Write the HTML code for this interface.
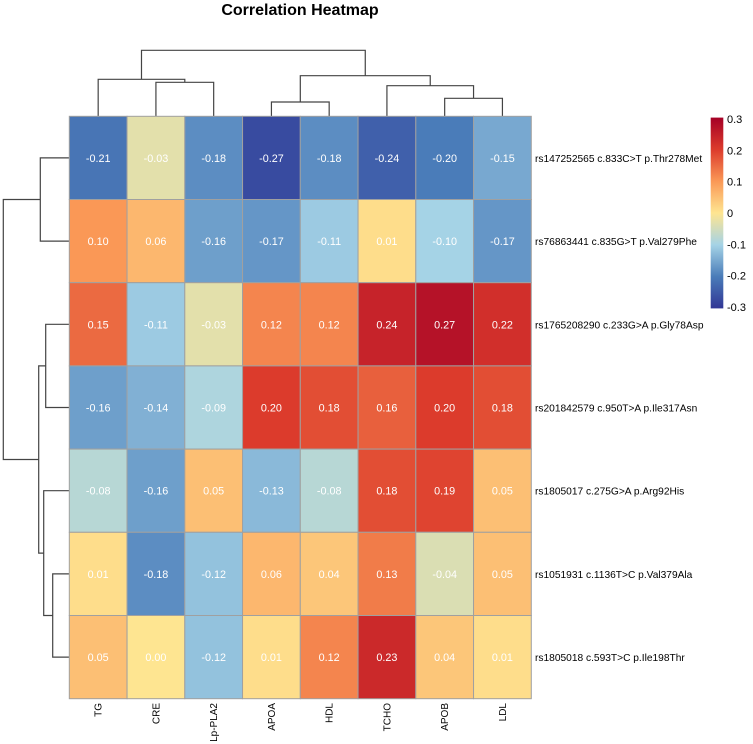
<!DOCTYPE html>
<html><head><meta charset="utf-8"><style>
body{margin:0;background:#fff}
svg{display:block;font-family:"Liberation Sans",Arial,sans-serif}
</style></head><body>
<svg id="chart" width="753" height="744" viewBox="0 0 753 744">
<text x="300" y="15" text-anchor="middle" font-size="16" font-weight="bold" fill="#000">Correlation Heatmap</text>
<g id="dendro-top" stroke="#444" stroke-width="1.2" fill="none"></g>
<g id="dendro-left" stroke="#444" stroke-width="1.2" fill="none"></g>
<g id="cells"></g>
<g id="rowlabels"></g>
<g id="collabels"></g>
<g id="legend"></g>
</svg>
<script>
const columns = ["TG","CRE","Lp-PLA2","APOA","HDL","TCHO","APOB","LDL"];
const rows = ["rs147252565 c.833C>T p.Thr278Met","rs76863441 c.835G>T p.Val279Phe","rs1765208290 c.233G>A p.Gly78Asp","rs201842579 c.950T>A p.Ile317Asn","rs1805017 c.275G>A p.Arg92His","rs1051931 c.1136T>C p.Val379Ala","rs1805018 c.593T>C p.Ile198Thr"];
const values = [
 [-0.21,-0.03,-0.18,-0.27,-0.18,-0.24,-0.20,-0.15],
 [0.10,0.06,-0.16,-0.17,-0.11,0.01,-0.10,-0.17],
 [0.15,-0.11,-0.03,0.12,0.12,0.24,0.27,0.22],
 [-0.16,-0.14,-0.09,0.20,0.18,0.16,0.20,0.18],
 [-0.08,-0.16,0.05,-0.13,-0.08,0.18,0.19,0.05],
 [0.01,-0.18,-0.12,0.06,0.04,0.13,-0.04,0.05],
 [0.05,0.00,-0.12,0.01,0.12,0.23,0.04,0.01]
];
const legendTicks = [0.3,0.2,0.1,0,-0.1,-0.2,-0.3];
const legendTickLabels = ["0.3","0.2","0.1","0","-0.1","-0.2","-0.3"];

const NS="http://www.w3.org/2000/svg";
const gx0=69.3, gy0=116.3, cw=57.75, ch=83.2;
const vmin=-0.3, vmax=0.3;
const xCenter = i => gx0 + cw*(i+0.5);
const yCenter = j => gy0 + ch*(j+0.5);
const stops=["#313695","#4a7cb9","#a5d3e6","#fee591","#fa9856","#dc3b2c","#a50026"];
function hex(h){return [1,3,5].map(k=>parseInt(h.substr(k,2),16));}
function color(v){
  let t=(v-vmin)/(vmax-vmin); t=Math.max(0,Math.min(1,t));
  const p=t*(stops.length-1), i=Math.min(Math.floor(p),stops.length-2), f=p-i;
  const a=hex(stops[i]), b=hex(stops[i+1]);
  return "rgb("+a.map((x,k)=>Math.round(x+(b[k]-x)*f)).join(",")+")";
}
function mk(tag,attrs,parent){const e=document.createElementNS(NS,tag);for(const k in attrs)e.setAttribute(k,attrs[k]);parent.appendChild(e);return e;}

const cells=document.getElementById("cells");
values.forEach((row,j)=>row.forEach((v,i)=>{
  const r=mk("rect",{x:gx0+cw*i,y:gy0+ch*j,width:cw,height:ch,fill:color(v),stroke:"#a0a0a0","stroke-width":1},cells);
  
  
  const t=mk("text",{x:xCenter(i),y:yCenter(j)+4,"text-anchor":"middle","font-size":10.8,fill:"#fff"},cells);
  t.textContent=v.toFixed(2);
  
  
}));

const rl=document.getElementById("rowlabels");
rows.forEach((r,j)=>{
  const t=mk("text",{x:535,y:yCenter(j)+4,"font-size":10.2,fill:"#000"},rl);
  t.textContent=r;
  
  
});
const cl=document.getElementById("collabels");
columns.forEach((c,i)=>{
  const x=xCenter(i)+3.5, y=703;
  const t=mk("text",{x:x,y:y,"font-size":10,fill:"#000","text-anchor":"end",transform:"rotate(-90 "+x+" "+y+")"},cl);
  t.textContent=c;
  
  
});

const dt=document.getElementById("dendro-top");
function uTop(x1,y1,x2,y2,h){mk("path",{d:`M${x1},${y1}V${h}H${x2}V${y2}`},dt);}
const gt=gy0;
const mCL=(xCenter(1)+xCenter(2))/2, hCL=82.3;
const mTL=(xCenter(0)+mCL)/2, hTL=79.3;
const mAH=(xCenter(3)+xCenter(4))/2, hAH=102;
const mBL=(xCenter(6)+xCenter(7))/2, hBL=98.3;
const mTBL=(xCenter(5)+mBL)/2, hTBL=85.7;
const mR=(mAH+mTBL)/2, hR=75.7;
uTop(xCenter(1),gt,xCenter(2),gt,hCL);
uTop(xCenter(0),gt,mCL,hCL,hTL);
uTop(xCenter(3),gt,xCenter(4),gt,hAH);
uTop(xCenter(6),gt,xCenter(7),gt,hBL);
uTop(xCenter(5),gt,mBL,hBL,hTBL);
uTop(mAH,hAH,mTBL,hTBL,hR);
uTop(mTL,hTL,mR,hR,50.3);

const dl=document.getElementById("dendro-left");
function uLeft(y1,x1,y2,x2,h){mk("path",{d:`M${x1},${y1}H${h}V${y2}H${x2}`},dl);}
const gl=gx0;
const m12=(yCenter(0)+yCenter(1))/2;
uLeft(yCenter(0),gl,yCenter(1),gl,40.3);
const m34=(yCenter(2)+yCenter(3))/2;
uLeft(yCenter(2),gl,yCenter(3),gl,45.7);
const m67=(yCenter(5)+yCenter(6))/2;
uLeft(yCenter(5),gl,yCenter(6),gl,52.7);
const m57=(yCenter(4)+m67)/2;
uLeft(yCenter(4),gl,m67,52.7,43.7);
const m37=(m34+m57)/2;
uLeft(m34,45.7,m57,43.7,38.7);
uLeft(m12,40.3,m37,38.7,3.3);

const lg=document.getElementById("legend");
const defs=mk("defs",{},lg);
const grad=mk("linearGradient",{id:"lgrad",x1:0,y1:1,x2:0,y2:0},defs);
stops.forEach((s,k)=>mk("stop",{offset:k/(stops.length-1),"stop-color":s},grad));
const ly = v => 213 - (v/0.1)*31.3;
const bar=mk("rect",{x:710.7,y:ly(0.3)-1.5,width:12.6,height:ly(-0.3)-ly(0.3)+3,fill:"url(#lgrad)"},lg);


legendTicks.forEach((v,k)=>{
  const t=mk("text",{x:727,y:ly(v)+4,"font-size":11,fill:"#000"},lg);
  t.textContent=legendTickLabels[k];
  
  
});
</script>
</body></html>
